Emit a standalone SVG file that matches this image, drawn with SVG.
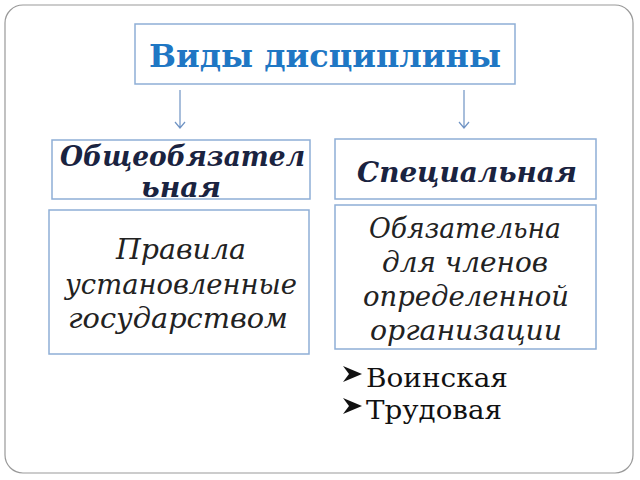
<svg xmlns="http://www.w3.org/2000/svg" width="640" height="480" viewBox="0 0 640 480">
<style>
.box{fill:#fff;stroke:#8eaed6;stroke-width:1.5}
.h{font-family:"DejaVu Serif",serif;font-weight:bold;font-style:italic;fill:#1a2340;font-size:28px}
.b{font-family:"DejaVu Serif",serif;font-style:italic;fill:#222;font-size:27px;text-anchor:middle}
.c{stroke:#6f93c4;stroke-width:1.2;fill:none}
</style>
<rect width="640" height="480" fill="#fff"/>
<rect x="5" y="5" width="628" height="468" rx="18" fill="#fff" stroke="#999" stroke-width="1.2"/>
<g id="title"><rect class="box" x="135" y="24" width="380" height="60"/>
<text x="325" y="67" text-anchor="middle" textLength="352" lengthAdjust="spacingAndGlyphs" style="font-family:'DejaVu Serif',serif;font-weight:bold;font-size:31px;fill:#1f77c4">Виды дисциплины</text></g>
<g id="connectors">
<path class="c" d="M180 90V128M175 122L180 128L185 122"/>
<path class="c" d="M464 90V128M459 122L464 128L469 122"/>
</g>
<g id="general"><rect class="box" x="52" y="140" width="258" height="59"/>
<text class="h" x="60" y="166" textLength="245" lengthAdjust="spacingAndGlyphs">Общеобязател</text>
<text class="h" x="141" y="197" textLength="80" lengthAdjust="spacingAndGlyphs">ьная</text></g>
<g id="special"><rect class="box" x="335" y="139" width="261" height="60"/>
<text class="h" x="357" y="182" textLength="220" lengthAdjust="spacingAndGlyphs">Специальная</text></g>
<g id="generalBody"><rect class="box" x="49" y="210" width="260" height="144"/>
<text class="b" x="181" y="259" textLength="130" lengthAdjust="spacingAndGlyphs">Правила</text>
<text class="b" x="181" y="294" textLength="232" lengthAdjust="spacingAndGlyphs">установленные</text>
<text class="b" x="178" y="328" textLength="220" lengthAdjust="spacingAndGlyphs">государством</text></g>
<g id="specialBody"><rect class="box" x="335" y="205" width="261" height="144"/>
<text class="b" x="465" y="238" textLength="192" lengthAdjust="spacingAndGlyphs">Обязательна</text>
<text class="b" x="465" y="272" textLength="166" lengthAdjust="spacingAndGlyphs">для членов</text>
<text class="b" x="466" y="306" textLength="206" lengthAdjust="spacingAndGlyphs">определенной</text>
<text class="b" x="466" y="340" textLength="192" lengthAdjust="spacingAndGlyphs">организации</text></g>
<g id="list" style="font-family:'DejaVu Serif',serif;font-size:26px;fill:#111">
<path d="M343 366L362 374L343 382L349 374Z" fill="#111"/>
<text x="366" y="387" textLength="142" lengthAdjust="spacingAndGlyphs">Воинская</text>
<path d="M343 398L362 406L343 414L349 406Z" fill="#111"/>
<text x="366" y="419" textLength="136" lengthAdjust="spacingAndGlyphs">Трудовая</text>
</g>
</svg>
